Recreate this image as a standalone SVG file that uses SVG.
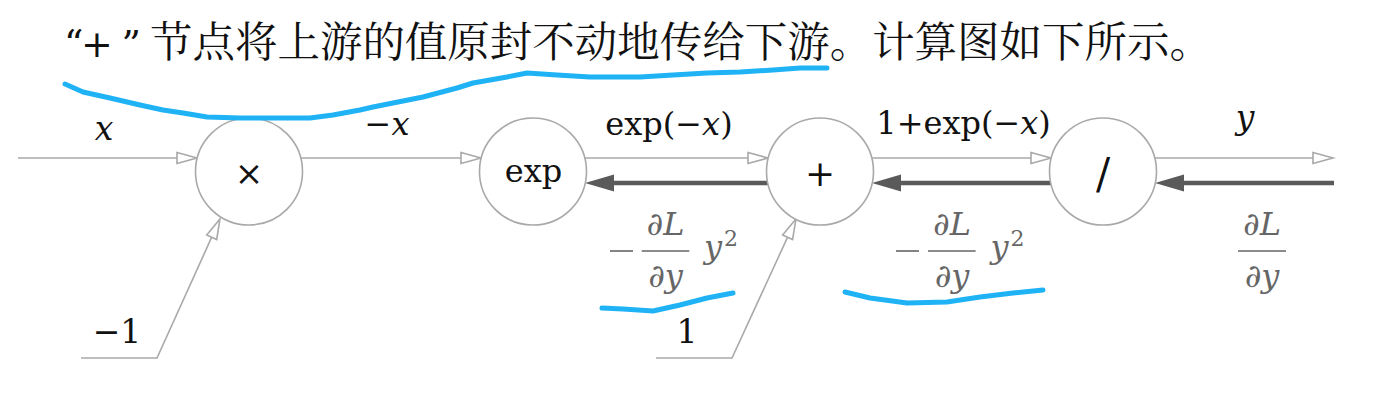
<svg xmlns="http://www.w3.org/2000/svg" width="1382" height="418" viewBox="0 0 1382 418">
<style>
.node{fill:#fff;stroke:#a9a9a9;stroke-width:1.6}
.fw{fill:none;stroke:#a9a9a9;stroke-width:1.6}
.bw{fill:none;stroke:#5a5a5a;stroke-width:4.5}
.lbl{fill:#111}
.grad{fill:#666}
.bar{stroke:#666;stroke-width:1.6}
.it{font-style:italic}
.title{fill:#111}
.ink{fill:none;stroke:#1fb3f6;stroke-width:5;stroke-linecap:round;stroke-linejoin:round}
</style>
<defs>
<marker id="open" markerUnits="userSpaceOnUse" markerWidth="22" markerHeight="14" refX="0" refY="5.5" orient="auto" overflow="visible">
<path d="M0,0 L20,5.5 L0,11 Z" fill="#fff" stroke="#a9a9a9" stroke-width="1.6" stroke-linejoin="miter"/>
</marker>
<marker id="solid" markerUnits="userSpaceOnUse" markerWidth="30" markerHeight="18" refX="9" refY="8.5" orient="auto" overflow="visible">
<path d="M0,0 L29,8.5 L0,17 Z" fill="#5a5a5a"/>
</marker>
</defs>
<rect width="1382" height="418" fill="#fff"/>

<g id="title">
<text class="title" x="64" y="57" font-size="38" font-family="DejaVu Serif, serif">“</text>
<text class="title" x="97" y="57" font-size="38" text-anchor="middle" font-family="DejaVu Serif, serif">+</text>
<text class="title" x="141" y="57" font-size="38" text-anchor="end" font-family="DejaVu Serif, serif">”</text>
<text class="title" x="150" y="57" font-size="42.5" textLength="1062" lengthAdjust="spacing" font-family="Noto Serif CJK SC, Noto Sans CJK SC, sans-serif">节点将上游的值原封不动地传给下游。计算图如下所示。</text>
</g>

<g id="connectors">
<line class="fw" x1="18" y1="158" x2="177" y2="158" marker-end="url(#open)"/>
<line class="fw" x1="301" y1="158" x2="461" y2="158" marker-end="url(#open)"/>
<line class="fw" x1="585" y1="158" x2="748" y2="158" marker-end="url(#open)"/>
<line class="fw" x1="872" y1="158" x2="1031" y2="158" marker-end="url(#open)"/>
<line class="fw" x1="1155" y1="158" x2="1313" y2="158" marker-end="url(#open)"/>
<polyline class="fw" points="81,358 157,358 211.7,237.2" marker-end="url(#open)"/>
<polyline class="fw" points="656,358 732,358 787.6,237.2" marker-end="url(#open)"/>
<line class="bw" x1="1334" y1="183" x2="1175" y2="183" marker-end="url(#solid)"/>
<line class="bw" x1="1051" y1="183" x2="892" y2="183" marker-end="url(#solid)"/>
<line class="bw" x1="768" y1="183" x2="605" y2="183" marker-end="url(#solid)"/>
</g>

<g font-family="DejaVu Serif, serif">
<g id="node-mul">
<circle class="node" cx="249" cy="171.5" r="53.5"/>
<text class="lbl" x="249" y="185" font-size="34" text-anchor="middle">×</text>
</g>
<g id="node-exp">
<circle class="node" cx="533" cy="171.5" r="53.5"/>
<text class="lbl" x="533.5" y="182" font-size="32" text-anchor="middle">exp</text>
</g>
<g id="node-add">
<circle class="node" cx="820" cy="171.5" r="53.5"/>
<text class="lbl" x="820" y="186" font-size="36" text-anchor="middle">+</text>
</g>
<g id="node-div">
<circle class="node" cx="1103" cy="171.5" r="53.5"/>
<text class="lbl" x="1103" y="188" font-size="42" text-anchor="middle">/</text>
</g>

<g id="forward-labels">
<text class="lbl it" x="104" y="140" font-size="33" text-anchor="middle">x</text>
<text class="lbl" x="387" y="135" font-size="32" text-anchor="middle">−<tspan class="it">x</tspan></text>
<text class="lbl" x="669" y="135" font-size="32" text-anchor="middle">exp(−<tspan class="it">x</tspan>)</text>
<text class="lbl" x="963.5" y="134" font-size="32" text-anchor="middle">1+exp(−<tspan class="it">x</tspan>)</text>
<text class="lbl it" x="1245" y="129" font-size="33" text-anchor="middle">y</text>
<text class="lbl" x="117" y="343" font-size="33" text-anchor="middle">−1</text>
<text class="lbl" x="687" y="343" font-size="33" text-anchor="middle">1</text>
</g>

<g id="grad-1">
<line class="bar" x1="610" y1="251" x2="633" y2="251"/>
<line class="bar" x1="641.7" y1="251" x2="689.3" y2="251"/>
<text class="grad" x="665.5" y="235" font-size="32" text-anchor="middle">∂<tspan class="it">L</tspan></text>
<text class="grad" x="665.5" y="287" font-size="32" text-anchor="middle">∂<tspan class="it">y</tspan></text>
<text class="grad it" x="713" y="258" font-size="32" text-anchor="middle">y</text>
<text class="grad" x="731" y="246" font-size="22" text-anchor="middle">2</text>
</g>
<g id="grad-2">
<line class="bar" x1="896" y1="251" x2="919" y2="251"/>
<line class="bar" x1="928" y1="251" x2="975.6" y2="251"/>
<text class="grad" x="952" y="235" font-size="32" text-anchor="middle">∂<tspan class="it">L</tspan></text>
<text class="grad" x="952" y="287" font-size="32" text-anchor="middle">∂<tspan class="it">y</tspan></text>
<text class="grad it" x="999.5" y="258" font-size="32" text-anchor="middle">y</text>
<text class="grad" x="1017.5" y="246" font-size="22" text-anchor="middle">2</text>
</g>
<g id="grad-3">
<line class="bar" x1="1238" y1="251" x2="1286" y2="251"/>
<text class="grad" x="1262" y="235" font-size="32" text-anchor="middle">∂<tspan class="it">L</tspan></text>
<text class="grad" x="1262" y="287" font-size="32" text-anchor="middle">∂<tspan class="it">y</tspan></text>
</g>
</g>

<g id="ink">
<path class="ink" d="M65,84 L83,92 L110,98 L140,105 L163,110 L183,113 L207,117 L240,118 L273,118 L310,118 L333,115 L360,110 L373,107 L393,103 L423,97 L457,88 L473,83 L507,77 L527,73 L557,75 L590,77 L640,77 L673,75 L707,73 L740,72 L773,70 L800,68 L827,68"/>
<path class="ink" d="M602,308 L623,309 L653,311 L680,305 L707,298 L733,293"/>
<path class="ink" d="M845,292 L870,298 L907,303 L947,302 L980,297 L1013,293 L1043,290"/>
</g>
</svg>
